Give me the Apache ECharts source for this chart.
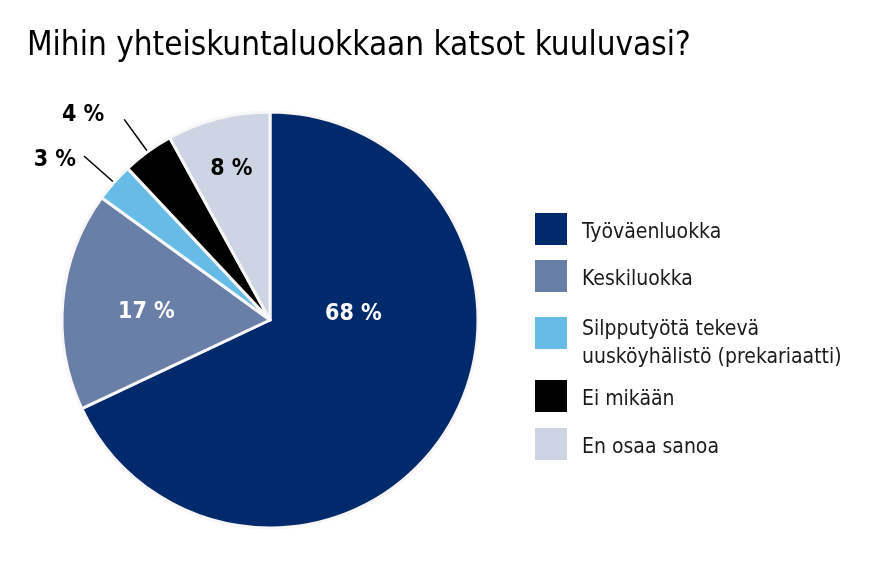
<!DOCTYPE html>
<html><head><meta charset="utf-8">
<script src="https://cdn.jsdelivr.net/npm/echarts@6/dist/echarts.min.js"></script>
<style>html,body{margin:0;padding:0;background:#fff}#c{width:870px;height:561px}</style>
</head><body><div id="c"></div>
<script>
const title = 'Mihin yhteiskuntaluokkaan katsot kuuluvasi?';
const categories = ['Työväenluokka', 'Keskiluokka', 'Silpputyötä tekevä\nuusköyhälistö (prekariaatti)', 'Ei mikään', 'En osaa sanoa'];
const values = [68, 17, 3, 4, 8];
const colors = ['#002a6c', '#6a7fa8', '#66bce6', '#000000', '#cdd4e3'];
const labelInside = [true, true, false, false, true];
const labelColors = ['#ffffff', '#ffffff', '#000000', '#000000', '#000000'];

const FONT = '"DejaVu Sans Condensed","DejaVu Sans",sans-serif';
const labelShift = {0: [-7, -63], 1: [-17, 2], 2: [-3, 4], 3: [-15, -4], 4: [-12, -47]};

const chart = echarts.init(document.getElementById('c'), null, {renderer: 'canvas'});
function legendText(gap) {
  return {fontFamily: FONT, fontSize: 21, color: '#1a1a1a', lineHeight: 28, padding: [0, 0, 0, 10],
    rich: {g: {fontFamily: FONT, fontSize: 5, lineHeight: gap}}};
}
const legendBase = {
  orient: 'vertical', left: 535, itemWidth: 32, itemHeight: 32, icon: 'rect', padding: 0,
  selectedMode: false, itemStyle: {borderWidth: 0},
  formatter: function (name) { return '{g| }\n' + name; }
};
chart.setOption({
  animation: false,
  backgroundColor: '#ffffff',
  title: {
    text: title, left: 27, top: 30, padding: 0,
    textStyle: {fontFamily: FONT, fontSize: 33, fontWeight: 'normal', color: '#000'}
  },
  legend: [
    Object.assign({}, legendBase, {data: [categories[0], categories[1]], top: 211.5, itemGap: 12, textStyle: legendText(7)}),
    Object.assign({}, legendBase, {data: [categories[2]], top: 294, textStyle: legendText(22)}),
    Object.assign({}, legendBase, {data: [categories[3], categories[4]], top: 378.5, itemGap: 13, textStyle: legendText(7)})
  ],
  series: [{
    type: 'pie',
    center: [270, 320],
    radius: 208,
    startAngle: 90,
    clockwise: true,
    avoidLabelOverlap: false,
    emphasis: {disabled: true},
    itemStyle: {borderColor: '#f7f7f7', borderWidth: 3},
    label: {fontFamily: FONT, fontSize: 23, fontWeight: 'bold', formatter: '{c} %'},
    labelLine: {length: 40, length2: 0, lineStyle: {color: '#000', width: 1.5}},
    labelLayout: function (p) {
      const s = labelShift[p.dataIndex];
      return s ? {dx: s[0], dy: s[1]} : {};
    },
    data: categories.map(function (name, i) {
      return {
        name: name,
        value: values[i],
        itemStyle: {color: colors[i]},
        label: {position: labelInside[i] ? 'inside' : 'outside', color: labelColors[i]},
        labelLine: {show: !labelInside[i]}
      };
    })
  }]
});
</script>
</body></html>
